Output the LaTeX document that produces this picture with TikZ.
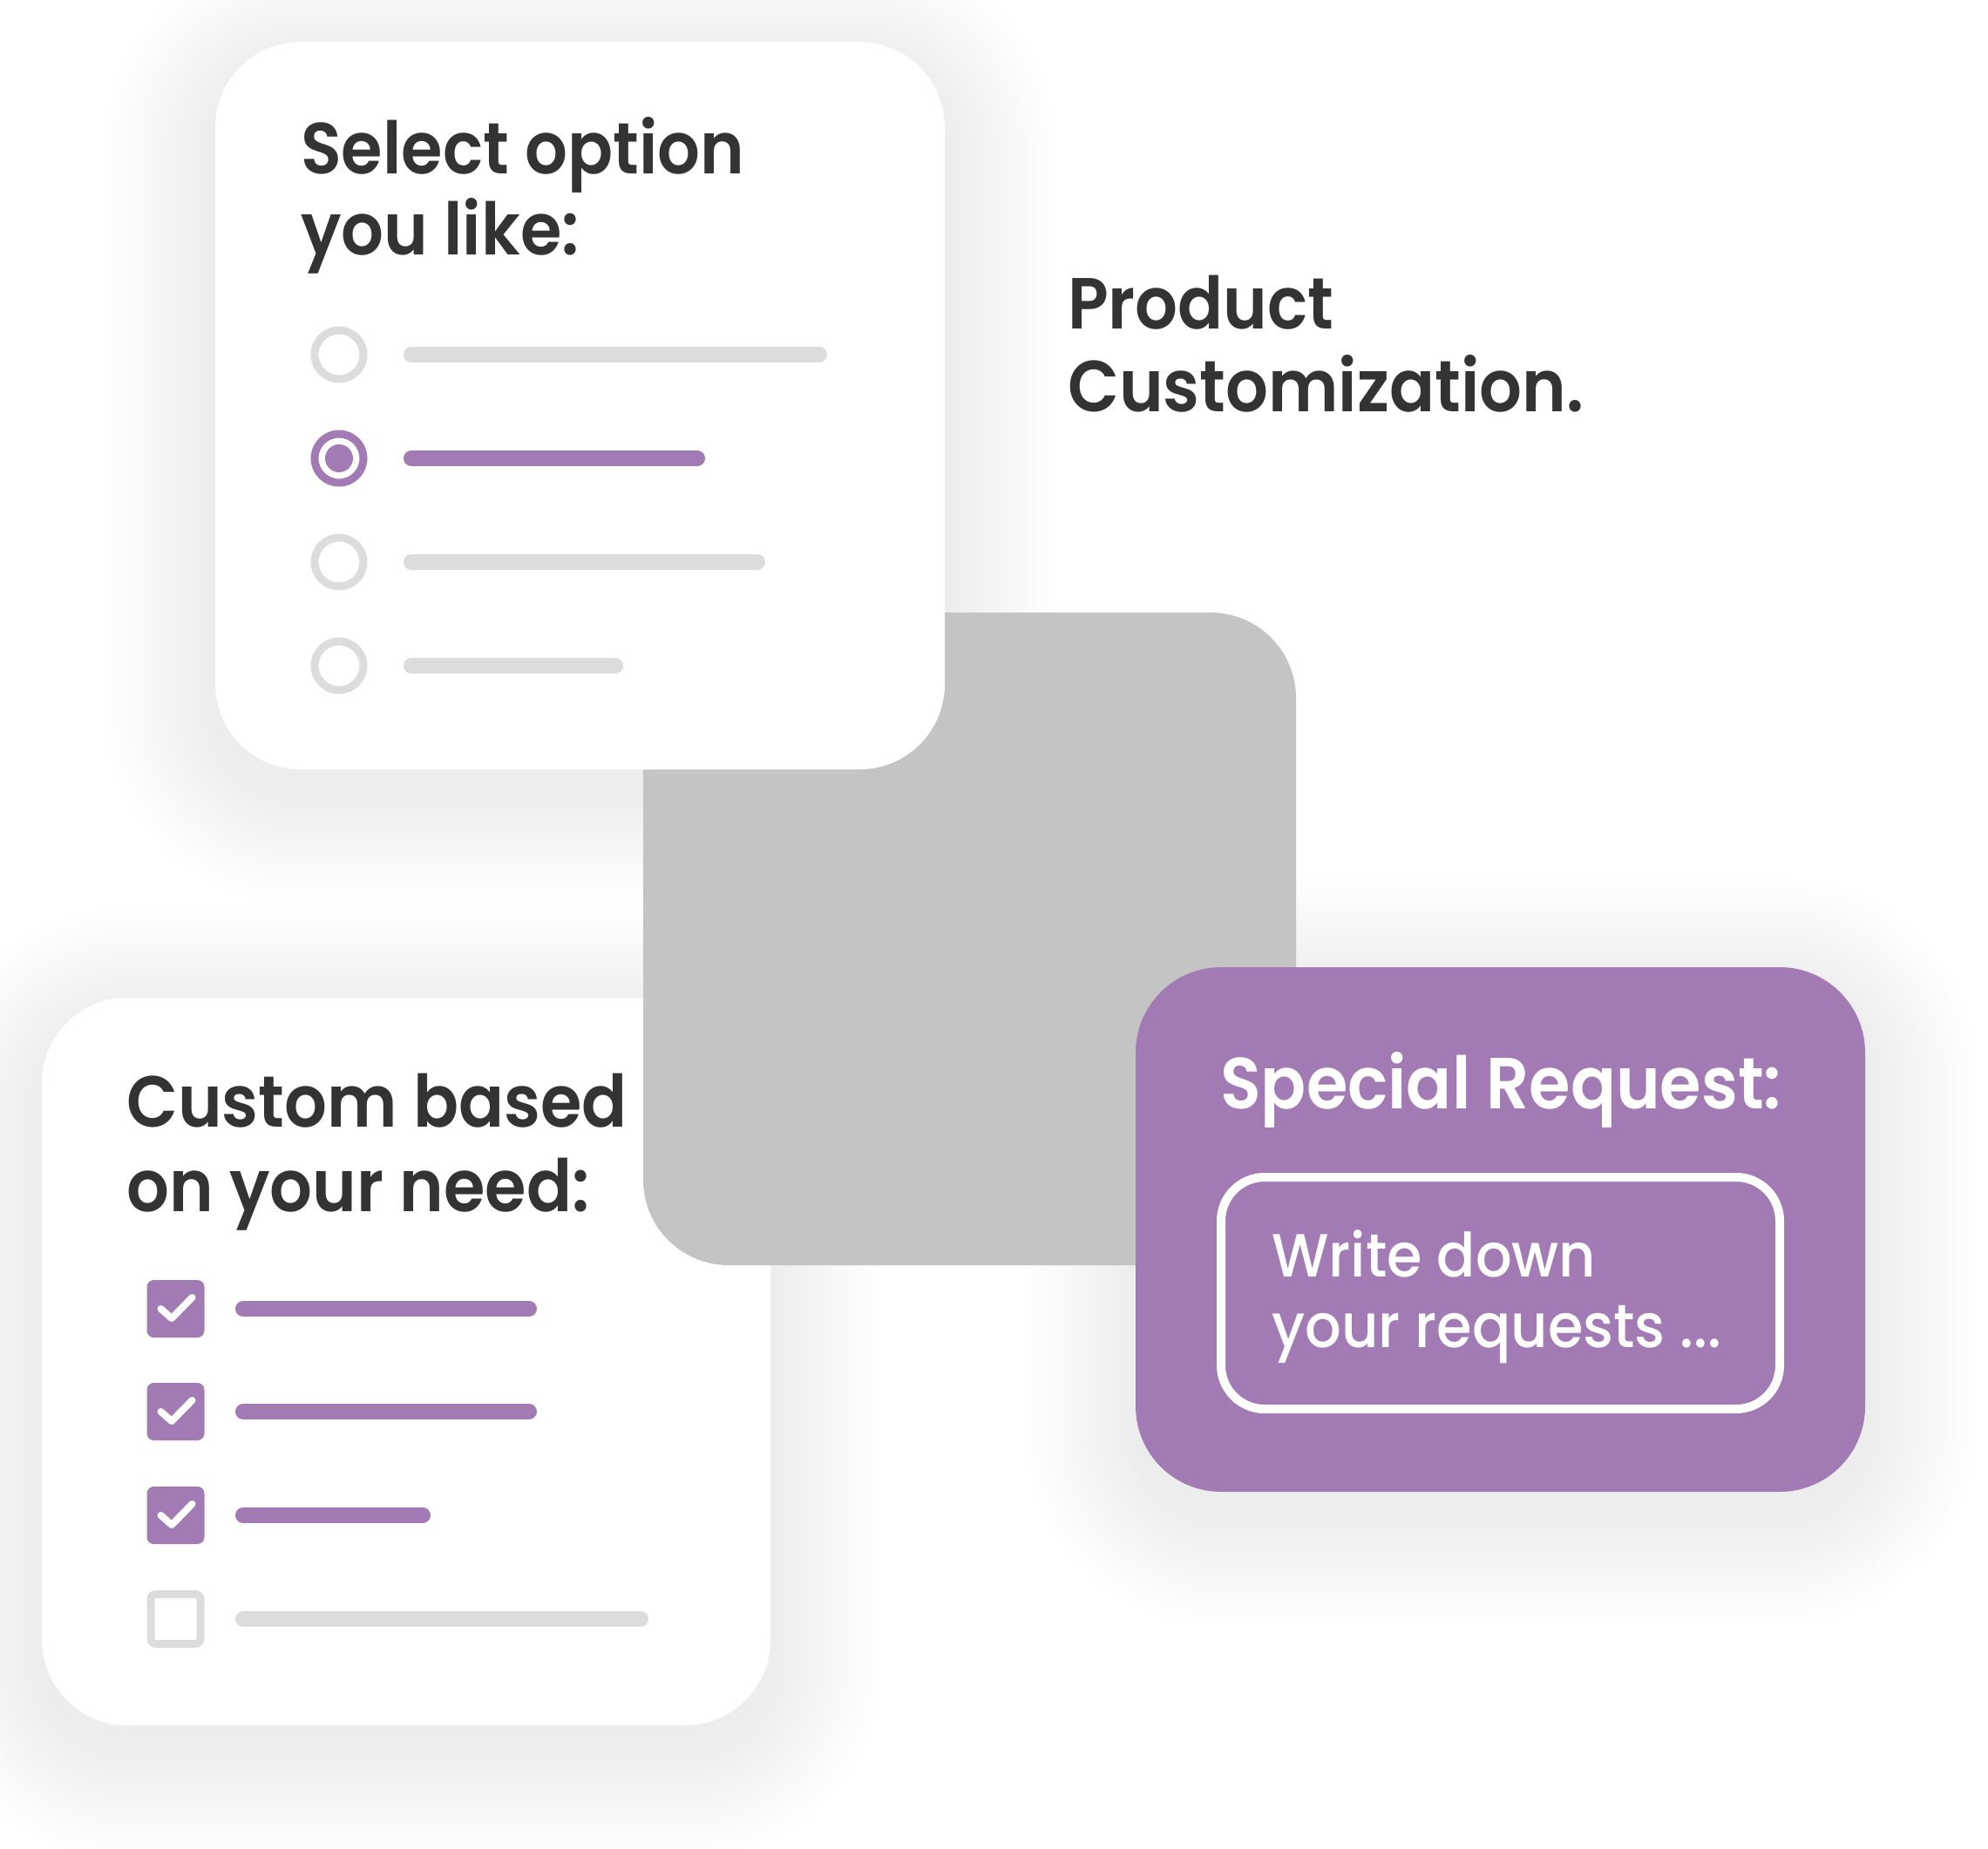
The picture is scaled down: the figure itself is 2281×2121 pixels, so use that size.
\documentclass[tikz,border=0pt]{standalone}
\usepackage{fontspec}
\setmainfont{Poppins}
\newfontfamily\headfont{Poppins SemiBold}[FakeStretch=0.925]
\newfontfamily\notefont{Poppins Medium}[FakeStretch=0.935]
\definecolor{ink}{HTML}{333333}
\definecolor{lilac}{HTML}{A27BB5}
\definecolor{pale}{HTML}{DCDCDC}
\definecolor{slab}{HTML}{C4C4C4}
% soft shadow under a rounded card: x1 y1 x2 y2
\newcommand\softshadow[4]{%
  \foreach \s [evaluate=\s as \r using 98+7*\s] in {1,...,18}{
    \fill[black,opacity=0.004,rounded corners=\r pt]
      ({#1-7*\s},{#2-7*\s+25}) rectangle ({#3+7*\s},{#4+7*\s+25});
  }}
\begin{document}
\begin{tikzpicture}[x=1pt,y=-1pt,
    card/.style={fill=white,rounded corners=98pt},
    bar/.style={line width=18pt,line cap=round},
    ring/.style={line width=9pt},
    tick/.style={white,line width=8pt,line cap=round,line join=round},
    head/.style={anchor=base west,inner sep=0pt,text=ink,font=\headfont\fontsize{83}{90}\selectfont},
    note/.style={anchor=base west,inner sep=0pt,text=white,font=\notefont\fontsize{70}{76}\selectfont}]
\fill[white] (0,0) rectangle (2281,2121);
\useasboundingbox (0,0) rectangle (2281,2121);

% shadows first
\softshadow{48}{1145}{884}{1980}
\softshadow{247}{48}{1084}{883}
\softshadow{1303}{1110}{2140}{1712}

% card with the check boxes
\fill[card] (48,1145) rectangle (884,1980);
\node[head] (need1) at (145,1293) {Custom based};
\node[head] (need2) at (145,1390) {on your need:};
\foreach \y/\len in {1502/607,1620/607,1739/485}{
  \fill[lilac,rounded corners=8pt] (168.5,{\y-33}) rectangle (234.5,{\y+33});
  \draw[tick] (184.5,\y) -- ++(12.5,11) -- ++(23.5,-24);
  \draw[bar,lilac] (279,\y) -- (\len,\y);
}
\draw[pale,line width=9pt,rounded corners=6pt] (173,1829.5) rectangle (230,1886.5);
\draw[bar,pale] (279,1858) -- (735,1858);

% grey block in the middle
\fill[slab,rounded corners=98pt] (738,703) rectangle (1487,1452);

% card with the radio buttons
\fill[card] (247,48) rectangle (1084,883);
\node[head] (pick1) at (345,199) {Select option};
\node[head] (pick2) at (345,292) {you like:};
\foreach \y/\len/\col in {407/940/pale,526/800/lilac,645/869/pale,764/706/pale}{
  \draw[ring,\col] (389,\y) circle [radius=28];
  \draw[bar,\col] (472,\y) -- (\len,\y);
}
\fill[lilac] (389,526) circle [radius=16];

% title
\node[head] (title1) at (1225,377) {Product};
\node[head] (title2) at (1225,472) {Customization.};

% purple request card
\fill[lilac,rounded corners=98pt] (1303,1110) rectangle (2140,1712);
\node[head,text=white] (req) at (1400,1272) {Special Request:};
\draw[white,line width=10pt,rounded corners=50pt] (1401,1351) rectangle (2042,1617);
\node[note] (write1) at (1459,1465) {Write down};
\node[note] (write2) at (1459,1546) {your requests ...};
\end{tikzpicture}
\end{document}
